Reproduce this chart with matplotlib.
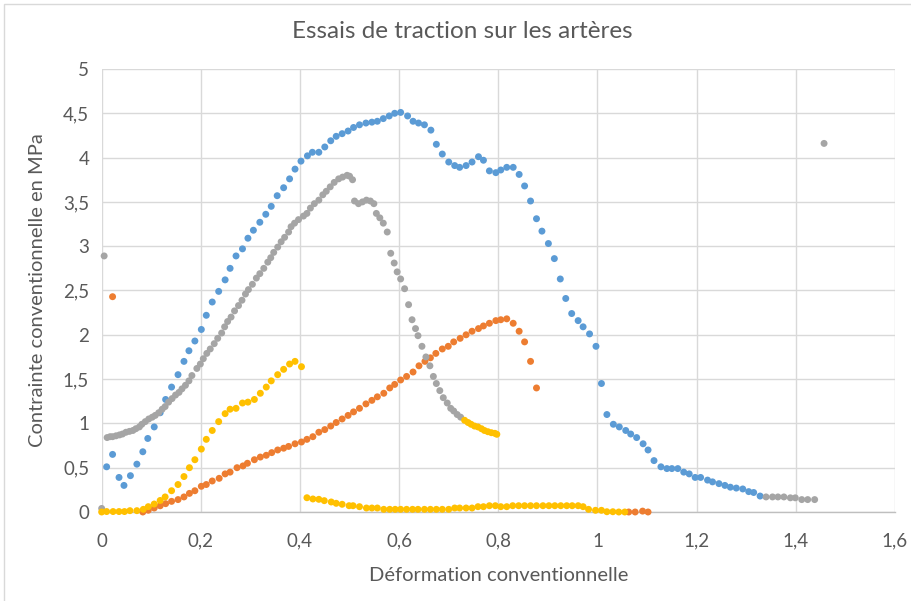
import matplotlib
matplotlib.use("Agg")
import matplotlib.pyplot as plt
from matplotlib.ticker import FuncFormatter
from matplotlib.patches import Rectangle

plt.rcParams['font.family'] = ['Lato', 'DejaVu Sans']

# Série 1 (bleu)
blue_x = [0.010, 0.022, 0.035, 0.045, 0.058, 0.071, 0.083, 0.093, 0.106, 0.118,
          0.129, 0.141, 0.154, 0.166, 0.176, 0.188, 0.201, 0.211, 0.223, 0.236,
          0.249, 0.259, 0.271, 0.284, 0.295, 0.306, 0.319, 0.331, 0.342, 0.354,
          0.367, 0.379, 0.390, 0.402, 0.415, 0.425, 0.438, 0.450, 0.462, 0.473,
          0.485, 0.497, 0.508, 0.520, 0.533, 0.545, 0.556, 0.568, 0.580, 0.591,
          0.603, 0.617, 0.628, 0.639, 0.651, 0.664, 0.675, 0.687, 0.700, 0.712,
          0.722, 0.735, 0.747, 0.760, 0.770, 0.782, 0.795, 0.805, 0.817, 0.830,
          0.842, 0.853, 0.865, 0.877, 0.888, 0.901, 0.913, 0.925, 0.936, 0.948,
          0.961, 0.971, 0.984, 0.997, 1.008, 1.019, 1.032, 1.044, 1.057, 1.067,
          1.079, 1.092, 1.102, 1.114, 1.128, 1.140, 1.150, 1.162, 1.174, 1.185,
          1.197, 1.208, 1.222, 1.232, 1.245, 1.257, 1.268, 1.280, 1.293, 1.305,
          1.315, 1.328]
blue_y = [0.51, 0.65, 0.39, 0.30, 0.41, 0.54, 0.68, 0.83, 0.96, 1.12,
          1.27, 1.41, 1.55, 1.70, 1.82, 1.93, 2.06, 2.22, 2.37, 2.49,
          2.62, 2.75, 2.89, 2.97, 3.09, 3.18, 3.27, 3.36, 3.45, 3.57,
          3.66, 3.76, 3.87, 3.96, 4.02, 4.06, 4.06, 4.12, 4.19, 4.24,
          4.27, 4.30, 4.34, 4.37, 4.39, 4.40, 4.41, 4.44, 4.47, 4.50,
          4.51, 4.47, 4.41, 4.39, 4.37, 4.31, 4.15, 4.04, 3.95, 3.91,
          3.89, 3.91, 3.95, 4.01, 3.97, 3.85, 3.83, 3.86, 3.89, 3.89,
          3.81, 3.68, 3.51, 3.31, 3.17, 3.03, 2.86, 2.63, 2.41, 2.24,
          2.16, 2.09, 2.01, 1.87, 1.45, 1.10, 0.99, 0.96, 0.92, 0.88,
          0.84, 0.77, 0.70, 0.58, 0.51, 0.49, 0.49, 0.49, 0.45, 0.43,
          0.39, 0.39, 0.36, 0.34, 0.32, 0.30, 0.28, 0.27, 0.26, 0.23,
          0.22, 0.18]

# Série 2 (orange)
orange_x = [0.022,
            0.083, 0.094, 0.106, 0.118, 0.129, 0.141, 0.154, 0.166, 0.177, 0.188,
            0.201, 0.211, 0.223, 0.237, 0.249, 0.259, 0.273, 0.285, 0.294, 0.308,
            0.320, 0.332, 0.343, 0.355, 0.367, 0.377, 0.390, 0.403, 0.414, 0.426,
            0.438, 0.450, 0.462, 0.473, 0.485, 0.497, 0.508, 0.520, 0.533, 0.545,
            0.556, 0.569, 0.581, 0.591, 0.603, 0.615, 0.628, 0.640, 0.652, 0.663,
            0.674, 0.687, 0.699, 0.710, 0.723, 0.735, 0.747, 0.760, 0.770, 0.782,
            0.795, 0.805, 0.817, 0.830, 0.842, 0.853, 0.865, 0.877,
            1.063, 1.076, 1.091, 1.102]
orange_y = [2.43,
            0.00, 0.02, 0.045, 0.07, 0.094, 0.12, 0.14, 0.17, 0.21, 0.24,
            0.29, 0.31, 0.35, 0.38, 0.43, 0.45, 0.50, 0.52, 0.55, 0.59,
            0.62, 0.64, 0.67, 0.70, 0.72, 0.74, 0.77, 0.79, 0.82, 0.85,
            0.90, 0.93, 0.97, 1.01, 1.05, 1.09, 1.13, 1.17, 1.22, 1.26,
            1.30, 1.34, 1.40, 1.44, 1.49, 1.53, 1.58, 1.65, 1.70, 1.74,
            1.79, 1.84, 1.87, 1.92, 1.96, 2.00, 2.04, 2.07, 2.10, 2.13,
            2.16, 2.17, 2.18, 2.13, 2.04, 1.92, 1.70, 1.40,
            0.00, 0.00, 0.01, 0.00]

# Série 3 (gris)
gray_x = [0.005, 0.000,
          0.011, 0.017, 0.022, 0.029, 0.036, 0.042, 0.049, 0.056, 0.063, 0.069,
          0.076, 0.081, 0.088, 0.095, 0.102, 0.108, 0.115, 0.122, 0.128, 0.135,
          0.142, 0.149, 0.156, 0.162, 0.169, 0.176, 0.182, 0.192, 0.199, 0.205,
          0.212, 0.219, 0.227, 0.234, 0.242, 0.248, 0.254, 0.261, 0.268, 0.276,
          0.283, 0.290, 0.296, 0.304, 0.312, 0.319, 0.327, 0.335, 0.341, 0.347,
          0.355, 0.362, 0.369, 0.377, 0.382, 0.389, 0.397, 0.407, 0.414, 0.421,
          0.429, 0.438, 0.446, 0.453, 0.461, 0.469, 0.478, 0.486, 0.495, 0.500,
          0.506,
          0.510, 0.518, 0.526, 0.534, 0.542, 0.549, 0.554, 0.561, 0.568, 0.576,
          0.583, 0.590, 0.596, 0.603, 0.611, 0.619, 0.626, 0.633, 0.638, 0.646,
          0.654, 0.662, 0.669, 0.675, 0.682, 0.689, 0.697, 0.704, 0.710, 0.717,
          0.724,
          1.340, 1.353, 1.364, 1.376, 1.389, 1.399, 1.412, 1.424, 1.438,
          1.457]
gray_y = [2.89, 0.04,
          0.84, 0.85, 0.85, 0.86, 0.87, 0.88, 0.90, 0.91, 0.92, 0.94,
          0.96, 0.99, 1.02, 1.05, 1.07, 1.09, 1.12, 1.16, 1.19, 1.24,
          1.28, 1.32, 1.35, 1.39, 1.43, 1.48, 1.54, 1.62, 1.67, 1.73,
          1.79, 1.84, 1.90, 1.96, 2.02, 2.09, 2.15, 2.20, 2.27, 2.33,
          2.39, 2.46, 2.51, 2.57, 2.64, 2.69, 2.75, 2.82, 2.87, 2.93,
          2.99, 3.05, 3.10, 3.16, 3.22, 3.26, 3.30, 3.34, 3.37, 3.43,
          3.48, 3.52, 3.58, 3.62, 3.67, 3.72, 3.76, 3.78, 3.80, 3.79,
          3.75,
          3.51, 3.48, 3.50, 3.52, 3.51, 3.48, 3.37, 3.32, 3.26, 3.16,
          2.92, 2.81, 2.71, 2.63, 2.52, 2.34, 2.17, 2.07, 1.99, 1.87,
          1.75, 1.65, 1.53, 1.45, 1.37, 1.29, 1.23, 1.17, 1.14, 1.10,
          1.07,
          0.17, 0.17, 0.17, 0.17, 0.16, 0.16, 0.14, 0.14, 0.14,
          4.16]

# Série 4 (jaune)
yellow_x = [0.000, 0.010, 0.023, 0.035, 0.046, 0.057, 0.071, 0.084, 0.094, 0.106,
            0.118, 0.128, 0.141, 0.154, 0.166, 0.177, 0.188, 0.201, 0.211, 0.223,
            0.236, 0.249, 0.259, 0.271, 0.284, 0.295, 0.308, 0.320, 0.332, 0.342,
            0.355, 0.367, 0.379, 0.390, 0.403,
            0.414, 0.426, 0.438, 0.449, 0.463, 0.473, 0.485, 0.499, 0.507, 0.520,
            0.534, 0.545, 0.556, 0.569, 0.581, 0.592, 0.603, 0.615, 0.627, 0.638,
            0.651, 0.663, 0.675, 0.687, 0.700, 0.712, 0.722, 0.735, 0.747, 0.759,
            0.770, 0.782, 0.794, 0.805, 0.817, 0.829, 0.841, 0.853, 0.865, 0.877,
            0.890, 0.902, 0.914, 0.926, 0.938, 0.949, 0.961, 0.971, 0.982, 0.996,
            1.008, 1.019, 1.031, 1.043, 1.055,
            0.732, 0.739, 0.745, 0.752, 0.759, 0.766, 0.772, 0.779, 0.786, 0.793,
            0.797]
yellow_y = [0.00, 0.005, 0.005, 0.005, 0.005, 0.015, 0.015, 0.03, 0.06, 0.09,
            0.13, 0.17, 0.24, 0.31, 0.40, 0.50, 0.59, 0.71, 0.82, 0.92,
            1.02, 1.11, 1.16, 1.17, 1.23, 1.24, 1.27, 1.34, 1.41, 1.48,
            1.55, 1.61, 1.67, 1.70, 1.64,
            0.161, 0.147, 0.143, 0.128, 0.113, 0.098, 0.087, 0.071, 0.071, 0.060,
            0.045, 0.045, 0.045, 0.030, 0.030, 0.030, 0.030, 0.030, 0.030, 0.030,
            0.030, 0.030, 0.030, 0.030, 0.030, 0.045, 0.045, 0.045, 0.045, 0.060,
            0.060, 0.071, 0.071, 0.060, 0.060, 0.071, 0.071, 0.071, 0.071, 0.071,
            0.071, 0.071, 0.071, 0.071, 0.071, 0.071, 0.071, 0.060, 0.030, 0.019,
            0.019, 0.003, 0.003, 0.000, 0.000,
            1.035, 1.01, 0.99, 0.97, 0.96, 0.94, 0.92, 0.906, 0.895, 0.888,
            0.877]

x_ticks = [0, 0.2, 0.4, 0.6, 0.8, 1.0, 1.2, 1.4, 1.6]
y_ticks = [0, 0.5, 1, 1.5, 2, 2.5, 3, 3.5, 4, 4.5, 5]

text_color = "#595959"
grid_color = "#D9D9D9"

fig = plt.figure(figsize=(9.11, 6.01), dpi=100)
ax = fig.add_axes([0.1116, 0.1481, 0.8708, 0.7371])

series = [
    (blue_x, blue_y, "#5B9BD5"),
    (orange_x, orange_y, "#ED7D31"),
    (gray_x, gray_y, "#A5A5A5"),
    (yellow_x, yellow_y, "#FFC000"),
]
for xs, ys, col in series:
    ax.scatter(xs, ys, s=25, color=col, edgecolors="none", zorder=3, clip_on=False)

ax.set_xlim(0, 1.6)
ax.set_ylim(0, 5)
ax.set_xticks(x_ticks)
ax.set_yticks(y_ticks)

comma = FuncFormatter(lambda v, p: f"{v:g}".replace(".", ","))
ax.xaxis.set_major_formatter(comma)
ax.yaxis.set_major_formatter(comma)

ax.grid(True, color=grid_color, linewidth=1.0, zorder=0)
ax.set_axisbelow(True)
for side in ("top", "right", "left"):
    ax.spines[side].set_visible(False)
ax.spines["bottom"].set_color("#BFBFBF")
ax.spines["bottom"].set_linewidth(1.0)
ax.tick_params(axis="both", length=0, labelsize=13.5, labelcolor=text_color)
ax.tick_params(axis="x", pad=15)
ax.tick_params(axis="y", pad=9)

fig.text(0.508, 0.947, "Essais de traction sur les artères", ha="center", va="center",
         fontsize=17.5, color=text_color)
fig.text(0.547, 0.042, "Déformation conventionnelle", ha="center", va="center",
         fontsize=14.5, color=text_color)
fig.text(0.041, 0.517, "Contrainte conventionnelle en MPa", ha="center", va="center",
         rotation=90, fontsize=14.5, color=text_color)

# cadre de la zone de graphique
fig.patches.append(Rectangle((4 / 911, -0.01), 1.2, 1 - 4 / 601 + 0.01,
                             transform=fig.transFigure, fill=False,
                             edgecolor="#D9D9D9", linewidth=1.0))

fig.savefig("out.png", dpi=100, facecolor="white")
plt.close(fig)
